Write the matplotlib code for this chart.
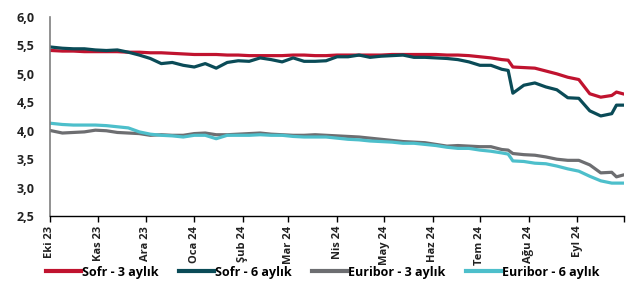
import matplotlib
matplotlib.use("Agg")
import matplotlib.pyplot as plt
import matplotlib.dates as mdates
import pandas as pd

dates = ["2023-10-02","2023-10-09","2023-10-16","2023-10-23","2023-10-30",
         "2023-11-06","2023-11-13","2023-11-20","2023-11-27","2023-12-04",
         "2023-12-11","2023-12-18","2023-12-25","2024-01-01","2024-01-08",
         "2024-01-15","2024-01-22","2024-01-29","2024-02-05","2024-02-12",
         "2024-02-19","2024-02-26","2024-03-04","2024-03-11","2024-03-18",
         "2024-03-25","2024-04-01","2024-04-08","2024-04-15","2024-04-22",
         "2024-04-29","2024-05-06","2024-05-13","2024-05-20","2024-05-27",
         "2024-06-03","2024-06-10","2024-06-17","2024-06-24","2024-07-01",
         "2024-07-08","2024-07-15","2024-07-19","2024-07-22","2024-07-29",
         "2024-08-05","2024-08-12","2024-08-19","2024-08-26","2024-09-02",
         "2024-09-09","2024-09-16","2024-09-23","2024-09-26","2024-09-30"]

sofr_3m = [5.41,5.40,5.40,5.39,5.39,5.39,5.39,5.38,5.38,5.37,
           5.37,5.36,5.35,5.34,5.34,5.34,5.33,5.33,5.32,5.32,
           5.32,5.32,5.33,5.33,5.32,5.32,5.33,5.33,5.33,5.33,
           5.33,5.34,5.34,5.34,5.34,5.34,5.33,5.33,5.32,5.30,
           5.28,5.25,5.24,5.12,5.11,5.10,5.05,5.00,4.94,4.90,
           4.65,4.59,4.62,4.68,4.65]
sofr_6m = [5.47,5.45,5.44,5.44,5.42,5.41,5.42,5.38,5.33,5.27,
           5.18,5.20,5.15,5.12,5.18,5.10,5.20,5.23,5.22,5.28,
           5.25,5.21,5.28,5.22,5.22,5.23,5.30,5.30,5.33,5.29,
           5.31,5.32,5.33,5.29,5.29,5.28,5.27,5.25,5.21,5.15,
           5.15,5.08,5.06,4.66,4.80,4.84,4.77,4.72,4.58,4.57,
           4.35,4.26,4.30,4.45,4.45]
euribor_3m = [4.00,3.96,3.97,3.98,4.01,4.00,3.97,3.96,3.95,3.92,
              3.93,3.92,3.92,3.95,3.96,3.93,3.93,3.94,3.95,3.96,
              3.94,3.93,3.92,3.92,3.93,3.92,3.91,3.90,3.89,3.87,
              3.85,3.83,3.81,3.80,3.79,3.76,3.73,3.74,3.73,3.72,
              3.72,3.67,3.66,3.60,3.58,3.57,3.54,3.50,3.48,3.48,
              3.40,3.26,3.27,3.19,3.22]
euribor_6m = [4.13,4.11,4.10,4.10,4.10,4.09,4.07,4.05,3.98,3.94,
              3.92,3.91,3.89,3.92,3.92,3.86,3.92,3.92,3.92,3.93,
              3.92,3.92,3.90,3.89,3.89,3.89,3.87,3.85,3.84,3.82,
              3.81,3.80,3.78,3.78,3.76,3.74,3.71,3.69,3.69,3.66,
              3.64,3.61,3.59,3.47,3.46,3.43,3.42,3.38,3.33,3.29,
              3.20,3.12,3.08,3.08,3.08]

series_names = ["Sofr - 3 aylık", "Sofr - 6 aylık", "Euribor - 3 aylık", "Euribor - 6 aylık"]
colors = ["#C0132F", "#0A4B57", "#6D6E71", "#4DBFCB"]
month_labels = ["Eki 23","Kas 23","Ara 23","Oca 24","Şub 24","Mar 24",
                "Nis 24","May 24","Haz 24","Tem 24","Ağu 24","Eyl 24",""]
y_ticks = [2.5, 3.0, 3.5, 4.0, 4.5, 5.0, 5.5, 6.0]

plt.rcParams['font.family'] = ['Open Sans', 'DejaVu Sans']

x = pd.to_datetime(dates)
fig = plt.figure(figsize=(6.39, 2.87), dpi=100)
ax = fig.add_axes([0.078, 0.247, 0.899, 0.694])

for vals, name, c in zip([sofr_3m, sofr_6m, euribor_3m, euribor_6m], series_names, colors):
    ax.plot(x, vals, color=c, lw=2.3, label=name, solid_joinstyle='round')

ax.set_ylim(2.5, 6.0)
ax.set_yticks(y_ticks)
ax.set_yticklabels([f"{v:.1f}".replace(".", ",") for v in y_ticks],
                   fontsize=9, fontweight='bold', color='#222222')
tick_dates = pd.date_range("2023-10-01", "2024-10-01", freq="MS")
ax.set_xlim(tick_dates[0], tick_dates[-1])
ax.set_xticks(tick_dates)
ax.set_xticklabels(month_labels, rotation=90, fontsize=8, fontweight='bold', color='#222222')
ax.tick_params(axis='y', length=0, pad=11)
ax.tick_params(axis='x', length=4, width=1, color='black', direction='out', pad=3)

for s in ['top', 'right']:
    ax.spines[s].set_visible(False)
ax.spines['left'].set_color('#7f7f7f')
ax.spines['left'].set_linewidth(1.2)
ax.spines['bottom'].set_color('black')
ax.spines['bottom'].set_linewidth(1.0)

leg = fig.legend(loc='center', bbox_to_anchor=(0.505, 0.052), ncol=4, frameon=False,
                 prop={'size': 9, 'weight': 'bold'}, handlelength=2.8,
                 handletextpad=0.1, columnspacing=1.6)
for line in leg.get_lines():
    line.set_linewidth(3)

fig.savefig("out.png", dpi=100)
